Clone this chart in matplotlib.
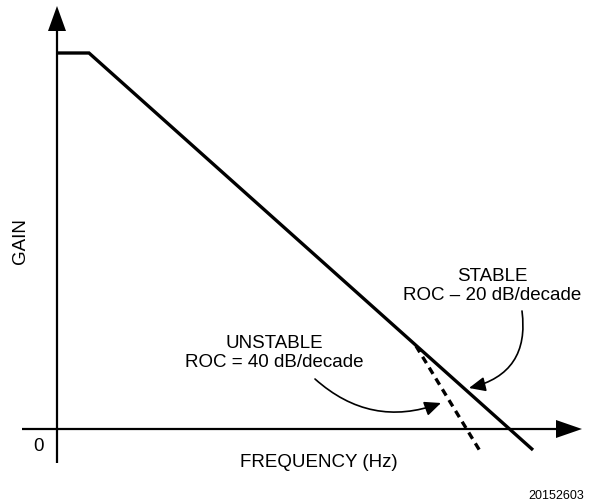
import matplotlib
matplotlib.use("Agg")
import matplotlib.pyplot as plt
from matplotlib.patches import Polygon, FancyArrowPatch

plt.rcParams['font.family'] = ['Liberation Sans', 'DejaVu Sans']

# Schematic data (arbitrary units; origin at the axes crossing)
gain_x = [0, 32, 476]
gain_y = [376, 376, -21]
unstable_x = [359, 423]
unstable_y = [83, -22]

labels = {
    "stable": "STABLE\nROC \u2013 20 dB/decade",
    "unstable": "UNSTABLE\nROC = 40 dB/decade",
    "xlabel": "FREQUENCY (Hz)",
    "ylabel": "GAIN",
    "zero": "0",
    "figid": "20152603",
}

W, H = 589, 502
fig = plt.figure(figsize=(W / 100, H / 100), dpi=100)
ax = fig.add_axes([0, 0, 1, 1])
ax.set_xlim(-57, W - 57)
ax.set_ylim(-72, H - 72)
ax.axis('off')

# axes lines
ax.plot([-35, 500], [0, 0], color='black', lw=1.6, solid_capstyle='butt')
ax.plot([0, 0], [-34, 400], color='black', lw=1.6, solid_capstyle='butt')
ax.add_patch(Polygon([[499, 9], [499, -9], [525, 0]], closed=True, color='black', lw=0))
ax.add_patch(Polygon([[-9, 398], [9, 398], [0, 423]], closed=True, color='black', lw=0))

# gain curves
ax.plot(gain_x, gain_y, color='black', lw=2.4, solid_joinstyle='miter', solid_capstyle='butt')
ax.plot(unstable_x, unstable_y, color='black', lw=2.4, linestyle=(0, (2.2, 1.6)), dash_capstyle='butt')

# labels
fs = 13.5
ax.text(435, 144, labels["stable"], ha='center', va='center', fontsize=fs, linespacing=1.2)
ax.text(217, 77, labels["unstable"], ha='center', va='center', fontsize=fs, linespacing=1.2)
ax.text(262, -33, labels["xlabel"], ha='center', va='center', fontsize=fs)
ax.text(-36, 189, labels["ylabel"], ha='center', va='center', fontsize=fs, rotation=90)
ax.text(-19, -17, labels["zero"], ha='center', va='center', fontsize=fs)
ax.text(499, -66, labels["figid"], ha='center', va='center', fontsize=9)

# curved annotation arrows
a1 = FancyArrowPatch((465, 118), (412, 41), connectionstyle="arc3,rad=-0.45",
                     arrowstyle='-|>,head_length=0.9,head_width=0.4', mutation_scale=11,
                     color='black', lw=1.2, shrinkA=0, shrinkB=0)
ax.add_patch(a1)
a2 = FancyArrowPatch((258, 50), (384, 26), connectionstyle="arc3,rad=0.3",
                     arrowstyle='-|>,head_length=0.9,head_width=0.4', mutation_scale=11,
                     color='black', lw=1.2, shrinkA=0, shrinkB=0)
ax.add_patch(a2)

fig.savefig("out.png", dpi=100)
